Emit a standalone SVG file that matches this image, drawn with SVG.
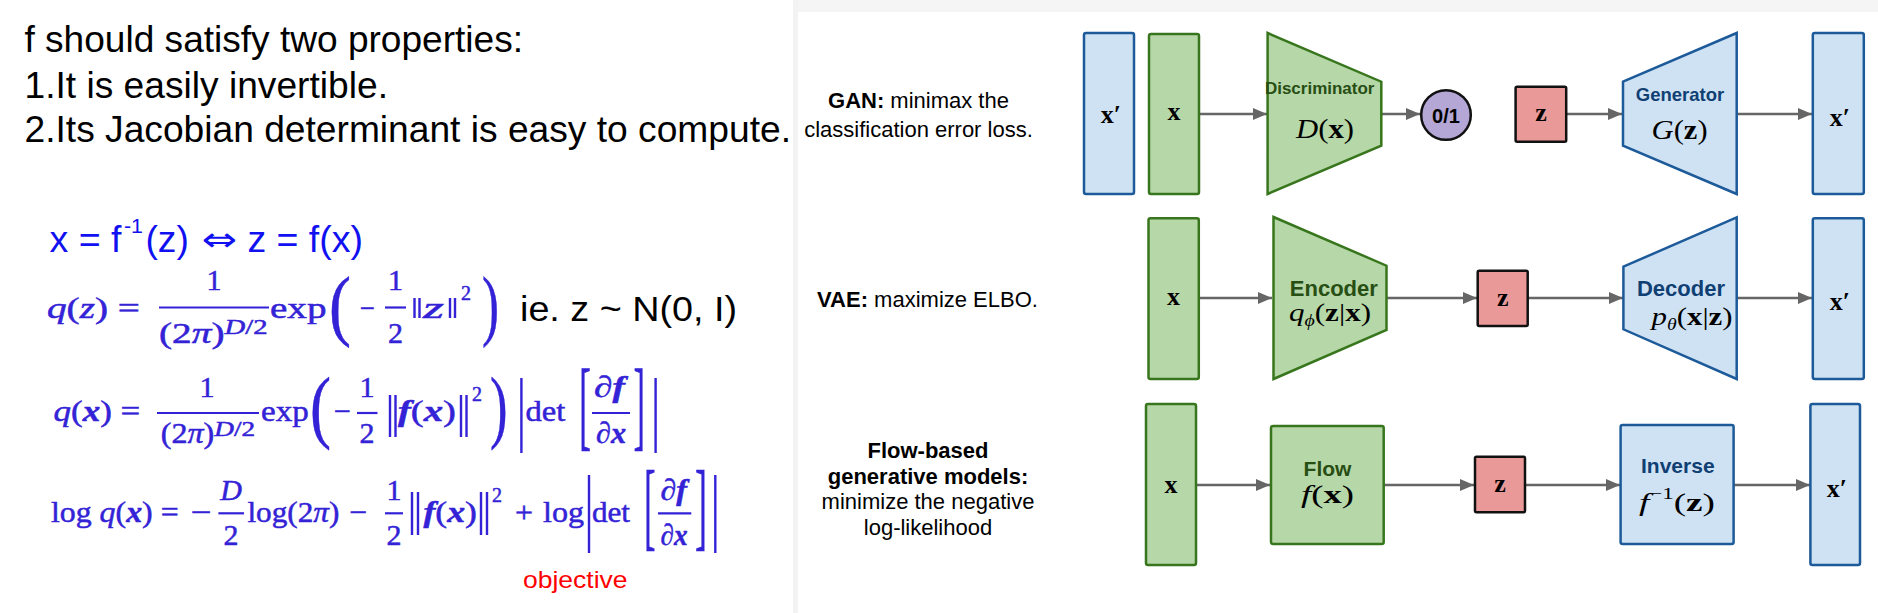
<svg xmlns="http://www.w3.org/2000/svg" width="1878" height="613" viewBox="0 0 1878 613">
<style>
.t{font-family:"Liberation Sans",Arial,sans-serif;fill:#000}
.bl{font-family:"Liberation Sans","DejaVu Sans",sans-serif;fill:#1010f0}
.m{font-family:"Liberation Serif","Times New Roman",serif;fill:#3322d6;stroke:#3322d6;stroke-width:0.5}
.i{font-style:italic}
.bi{font-style:italic;font-weight:bold}
.bar{stroke:#3322d6;stroke-width:2.2}
.vb{stroke:#3322d6;stroke-width:2.4}
.lab{font-family:"Liberation Sans",Arial,sans-serif;font-size:22px;fill:#000;text-anchor:middle}
.g{fill:#b6d7a8;stroke:#38761d;stroke-width:2.5}
.b{fill:#cfe2f3;stroke:#1c5a99;stroke-width:2.5}
.r{fill:#ea9999;stroke:#111;stroke-width:2.5}
.c{fill:#b4a7d6;stroke:#111;stroke-width:2.5}
.gt{font-family:"Liberation Sans",Arial,sans-serif;font-weight:bold;fill:#274e13;text-anchor:middle}
.bt{font-family:"Liberation Sans",Arial,sans-serif;font-weight:bold;fill:#0f3f73;text-anchor:middle}
.v{font-family:"Liberation Serif","DejaVu Serif",serif;fill:#000}
.vc{text-anchor:middle;font-weight:bold}
.cn{stroke:#666;stroke-width:2.5;fill:none}
</style>
<defs>
<marker id="ah" markerWidth="14" markerHeight="12" refX="14" refY="6" orient="auto" markerUnits="userSpaceOnUse"><path d="M0,0 L14,6 L0,12 z" fill="#666"/></marker>
</defs>
<rect width="1878" height="613" fill="#fff"/>
<rect x="793" y="0" width="1085" height="12" fill="#f5f5f5"/>
<rect x="793" y="0" width="5" height="613" fill="#f3f3f3"/>

<g id="properties">
<text class="t" x="24.5" y="52" font-size="37" textLength="498.5" lengthAdjust="spacingAndGlyphs">f should satisfy two properties:</text>
<text class="t" x="24.5" y="97.5" font-size="37" textLength="363.5" lengthAdjust="spacingAndGlyphs">1.It is easily invertible.</text>
<text class="t" x="24.5" y="142" font-size="37" textLength="766.5" lengthAdjust="spacingAndGlyphs">2.Its Jacobian determinant is easy to compute.</text>
</g>

<g id="formula-inverse" font-size="37">
<text class="bl" x="49.5" y="252" textLength="72" lengthAdjust="spacingAndGlyphs">x = f</text>
<text class="bl" x="124" y="233" font-size="21" textLength="19" lengthAdjust="spacingAndGlyphs">-1</text>
<text class="bl" x="145.4" y="252" textLength="43.4" lengthAdjust="spacingAndGlyphs">(z)</text>
<text x="201.5" y="251" style="font-family:'DejaVu Sans',sans-serif;font-size:34px;fill:#1010f0" textLength="35.5" lengthAdjust="spacingAndGlyphs">⇔</text>
<text class="bl" x="247.4" y="252" textLength="115.6" lengthAdjust="spacingAndGlyphs">z = f(x)</text>
</g>

<g id="formula-qz" font-size="30">
<text class="m" x="47" y="318" textLength="93" lengthAdjust="spacingAndGlyphs"><tspan class="i">q</tspan>(<tspan class="i">z</tspan>) =</text>
<text class="m" x="214" y="290" text-anchor="middle">1</text>
<line class="bar" x1="159" y1="307.5" x2="269" y2="307.5"/>
<text class="m" x="159" y="343" textLength="65.5" lengthAdjust="spacingAndGlyphs">(2<tspan class="i">π</tspan>)</text>
<text class="m" x="224.5" y="334" font-size="21" textLength="43" lengthAdjust="spacingAndGlyphs"><tspan class="i">D</tspan>/2</text>
<text class="m" x="270" y="318" textLength="56.5" lengthAdjust="spacingAndGlyphs">exp</text>
<text class="m" transform="translate(329,330.5) scale(0.836,1)" font-size="79">(</text>
<text class="m" x="360" y="318" textLength="15" lengthAdjust="spacingAndGlyphs">−</text>
<text class="m" x="395.5" y="290" text-anchor="middle">1</text>
<line class="bar" x1="385" y1="307.5" x2="406" y2="307.5"/>
<text class="m" x="395.5" y="343" text-anchor="middle">2</text>
<line class="vb" x1="414.5" y1="298" x2="414.5" y2="318"/>
<line class="vb" x1="419.5" y1="298" x2="419.5" y2="318"/>
<text class="m i" x="423" y="318" textLength="21" lengthAdjust="spacingAndGlyphs">z</text>
<line class="vb" x1="450" y1="298" x2="450" y2="318"/>
<line class="vb" x1="455" y1="298" x2="455" y2="318"/>
<text class="m" x="461" y="300" font-size="20">2</text>
<text class="m" transform="translate(482,330.5) scale(0.646,1)" font-size="79">)</text>
<text class="t" x="520" y="321" font-size="35" textLength="217" lengthAdjust="spacingAndGlyphs">ie. z ~ N(0, I)</text>
</g>

<g id="formula-qx" font-size="30">
<text class="m" x="53.6" y="421" textLength="86.7" lengthAdjust="spacingAndGlyphs"><tspan class="i">q</tspan>(<tspan class="bi">x</tspan>) =</text>
<text class="m" x="207" y="397" text-anchor="middle">1</text>
<line class="bar" x1="157" y1="413" x2="259" y2="413"/>
<text class="m" x="160.7" y="443" textLength="53.6" lengthAdjust="spacingAndGlyphs">(2<tspan class="i">π</tspan>)</text>
<text class="m" x="214.3" y="436" font-size="21" textLength="40.8" lengthAdjust="spacingAndGlyphs"><tspan class="i">D</tspan>/2</text>
<text class="m" x="261" y="421" textLength="47.7" lengthAdjust="spacingAndGlyphs">exp</text>
<text class="m" transform="translate(310,432.7) scale(0.78,1)" font-size="81">(</text>
<text class="m" x="334" y="421" textLength="17" lengthAdjust="spacingAndGlyphs">−</text>
<text class="m" x="367" y="397" text-anchor="middle">1</text>
<line class="bar" x1="357" y1="413" x2="377.5" y2="413"/>
<text class="m" x="367" y="443" text-anchor="middle">2</text>
<line class="vb" x1="390" y1="395" x2="390" y2="437"/>
<line class="vb" x1="395.5" y1="395" x2="395.5" y2="437"/>
<text class="m" x="398" y="421" textLength="58" lengthAdjust="spacingAndGlyphs"><tspan class="bi">f</tspan>(<tspan class="bi">x</tspan>)</text>
<line class="vb" x1="461" y1="395" x2="461" y2="437"/>
<line class="vb" x1="466.5" y1="395" x2="466.5" y2="437"/>
<text class="m" x="472" y="401" font-size="20">2</text>
<text class="m" transform="translate(490,432.7) scale(0.65,1)" font-size="81">)</text>
<line class="vb" x1="521.4" y1="378" x2="521.4" y2="453"/>
<text class="m" x="525.5" y="421" textLength="39.8" lengthAdjust="spacingAndGlyphs">det</text>
<text class="m" transform="translate(579,437.6) scale(0.364,1)" font-size="99">[</text>
<text class="m bi" x="594" y="397" textLength="31" lengthAdjust="spacingAndGlyphs">∂f</text>
<line class="bar" x1="592" y1="413" x2="630" y2="413"/>
<text class="m bi" x="596" y="443" textLength="30" lengthAdjust="spacingAndGlyphs">∂x</text>
<text class="m" transform="translate(633.5,437.6) scale(0.35,1)" font-size="99">]</text>
<line class="vb" x1="655.6" y1="378" x2="655.6" y2="453"/>
</g>

<g id="formula-logqx" font-size="30">
<text class="m" x="51" y="522" textLength="127.6" lengthAdjust="spacingAndGlyphs">log <tspan class="i">q</tspan>(<tspan class="bi">x</tspan>) =</text>
<text class="m" x="191" y="522" textLength="20.7" lengthAdjust="spacingAndGlyphs">−</text>
<text class="m i" x="231" y="500" text-anchor="middle">D</text>
<line class="bar" x1="218.4" y1="513.3" x2="244" y2="513.3"/>
<text class="m" x="231" y="545" text-anchor="middle">2</text>
<text class="m" x="247.4" y="522" textLength="92" lengthAdjust="spacingAndGlyphs">log(2<tspan class="i">π</tspan>)</text>
<text class="m" x="349.5" y="522" textLength="17.8" lengthAdjust="spacingAndGlyphs">−</text>
<text class="m" x="394" y="500" text-anchor="middle">1</text>
<line class="bar" x1="385" y1="513.3" x2="403" y2="513.3"/>
<text class="m" x="394" y="545" text-anchor="middle">2</text>
<line class="vb" x1="412" y1="492" x2="412" y2="535"/>
<line class="vb" x1="418" y1="492" x2="418" y2="535"/>
<text class="m" x="423.5" y="522" textLength="53.5" lengthAdjust="spacingAndGlyphs"><tspan class="bi">f</tspan>(<tspan class="bi">x</tspan>)</text>
<line class="vb" x1="481" y1="492" x2="481" y2="535"/>
<line class="vb" x1="487" y1="492" x2="487" y2="535"/>
<text class="m" x="492" y="502" font-size="20">2</text>
<text class="m" x="515" y="522" textLength="18" lengthAdjust="spacingAndGlyphs">+</text>
<text class="m" x="543" y="522" textLength="41" lengthAdjust="spacingAndGlyphs">log</text>
<line class="vb" x1="589" y1="475" x2="589" y2="553"/>
<text class="m" x="592" y="522" textLength="38" lengthAdjust="spacingAndGlyphs">det</text>
<text class="m" transform="translate(644,537.7) scale(0.356,1)" font-size="98">[</text>
<text class="m bi" x="660.5" y="500" textLength="26.5" lengthAdjust="spacingAndGlyphs">∂f</text>
<line class="bar" x1="658" y1="513.3" x2="691.3" y2="513.3"/>
<text class="m bi" x="660.5" y="545" textLength="27" lengthAdjust="spacingAndGlyphs">∂x</text>
<text class="m" transform="translate(695,537.7) scale(0.368,1)" font-size="98">]</text>
<line class="vb" x1="715.3" y1="475" x2="715.3" y2="553"/>
<text x="523" y="588" font-family="Liberation Sans, Arial, sans-serif" font-size="24" fill="#ff0000" textLength="104.6" lengthAdjust="spacingAndGlyphs">objective</text>
</g>

<g id="row-labels">
<text class="lab" x="918.5" y="108.3"><tspan font-weight="bold">GAN:</tspan> minimax the</text>
<text class="lab" x="918.5" y="136.7">classification error loss.</text>
<text class="lab" x="927.5" y="307.3"><tspan font-weight="bold">VAE:</tspan> maximize ELBO.</text>
<text class="lab" x="928" y="458.3" font-weight="bold">Flow-based</text>
<text class="lab" x="928" y="484.3" font-weight="bold">generative models:</text>
<text class="lab" x="928" y="509.3">minimize the negative</text>
<text class="lab" x="928" y="535">log-likelihood</text>
</g>

<g id="connectors">
<line class="cn" x1="1199" y1="114" x2="1267" y2="114" marker-end="url(#ah)"/>
<line class="cn" x1="1381" y1="114" x2="1420" y2="114" marker-end="url(#ah)"/>
<line class="cn" x1="1566" y1="114" x2="1622" y2="114" marker-end="url(#ah)"/>
<line class="cn" x1="1737" y1="114" x2="1812" y2="114" marker-end="url(#ah)"/>
<line class="cn" x1="1199" y1="298" x2="1272" y2="298" marker-end="url(#ah)"/>
<line class="cn" x1="1386.5" y1="298" x2="1477" y2="298" marker-end="url(#ah)"/>
<line class="cn" x1="1528" y1="298" x2="1623" y2="298" marker-end="url(#ah)"/>
<line class="cn" x1="1737" y1="298" x2="1812" y2="298" marker-end="url(#ah)"/>
<line class="cn" x1="1196" y1="485" x2="1270" y2="485" marker-end="url(#ah)"/>
<line class="cn" x1="1384" y1="485" x2="1474" y2="485" marker-end="url(#ah)"/>
<line class="cn" x1="1525" y1="485" x2="1620" y2="485" marker-end="url(#ah)"/>
<line class="cn" x1="1734" y1="485" x2="1810" y2="485" marker-end="url(#ah)"/>
</g>

<g id="gan-xprime-in">
<rect class="b" x="1084" y="33" width="50" height="161" rx="2"/>
<text class="v vc" x="1111" y="122.7" font-size="26">x′</text>
</g>
<g id="gan-x">
<rect class="g" x="1149" y="34" width="50" height="160" rx="2"/>
<text class="v vc" x="1174" y="120" font-size="26">x</text>
</g>
<g id="gan-discriminator">
<polygon class="g" points="1267.6,33 1381.3,81.7 1381.3,145.7 1267.6,194"/>
<text class="gt" x="1319.7" y="94.3" font-size="17">Discriminator</text>
<text class="v" x="1296" y="138" font-size="28" textLength="58" lengthAdjust="spacingAndGlyphs"><tspan class="i">D</tspan>(<tspan font-weight="bold">x</tspan>)</text>
</g>
<g id="gan-output">
<circle class="c" cx="1446" cy="115" r="24.8"/>
<text class="gt" x="1446" y="123" font-size="20" style="fill:#000">0/1</text>
</g>
<g id="gan-z">
<rect class="r" x="1515.6" y="86.7" width="50.6" height="55" rx="1.5"/>
<text class="v vc" x="1541" y="120.7" font-size="26">z</text>
</g>
<g id="gan-generator">
<polygon class="b" points="1623,81.7 1736.7,33 1736.7,194 1623,145.7"/>
<text class="bt" x="1680" y="101" font-size="18.5">Generator</text>
<text class="v" x="1651.6" y="139" font-size="28" textLength="56" lengthAdjust="spacingAndGlyphs"><tspan class="i">G</tspan>(<tspan font-weight="bold">z</tspan>)</text>
</g>
<g id="gan-xprime-out">
<rect class="b" x="1812.8" y="33" width="51" height="161" rx="2"/>
<text class="v vc" x="1840" y="126" font-size="26">x′</text>
</g>

<g id="vae-x">
<rect class="g" x="1148.5" y="218.3" width="50.3" height="160.7" rx="2"/>
<text class="v vc" x="1173.6" y="305" font-size="26">x</text>
</g>
<g id="vae-encoder">
<polygon class="g" points="1273.5,217 1386.5,265.7 1386.5,330 1273.5,379"/>
<text class="gt" x="1333.8" y="295.5" font-size="22">Encoder</text>
<text class="v" x="1289" y="321" font-size="25" textLength="82" lengthAdjust="spacingAndGlyphs"><tspan class="i">q</tspan><tspan class="i" font-size="16" dy="5">ϕ</tspan><tspan dy="-5">(</tspan><tspan font-weight="bold">z</tspan>|<tspan font-weight="bold">x</tspan>)</text>
</g>
<g id="vae-z">
<rect class="r" x="1477.7" y="270.7" width="50" height="55.3" rx="1.5"/>
<text class="v vc" x="1502.7" y="306" font-size="26">z</text>
</g>
<g id="vae-decoder">
<polygon class="b" points="1623.4,266.7 1736.7,217.3 1736.7,379 1623.4,329.3"/>
<text class="bt" x="1681" y="295.5" font-size="22">Decoder</text>
<text class="v" x="1651.6" y="325" font-size="25" textLength="81" lengthAdjust="spacingAndGlyphs"><tspan class="i">p</tspan><tspan class="i" font-size="16" dy="5">θ</tspan><tspan dy="-5">(</tspan><tspan font-weight="bold">x</tspan>|<tspan font-weight="bold">z</tspan>)</text>
</g>
<g id="vae-xprime">
<rect class="b" x="1812.8" y="218.3" width="51" height="160.7" rx="2"/>
<text class="v vc" x="1840" y="310" font-size="26">x′</text>
</g>

<g id="flow-x">
<rect class="g" x="1146" y="404" width="50" height="161" rx="2"/>
<text class="v vc" x="1171" y="493.3" font-size="26">x</text>
</g>
<g id="flow-f">
<rect class="g" x="1271" y="426" width="112.7" height="118" rx="2"/>
<text class="gt" x="1327.5" y="476" font-size="21">Flow</text>
<text class="v" x="1301" y="503" font-size="26" textLength="53" lengthAdjust="spacingAndGlyphs"><tspan class="i">f</tspan>(<tspan font-weight="bold">x</tspan>)</text>
</g>
<g id="flow-z">
<rect class="r" x="1475" y="456.7" width="50" height="55.6" rx="1.5"/>
<text class="v vc" x="1500" y="491.7" font-size="26">z</text>
</g>
<g id="flow-inverse">
<rect class="b" x="1620.6" y="425" width="113" height="119" rx="2"/>
<text class="bt" x="1677.8" y="472.7" font-size="21">Inverse</text>
<text class="v" x="1639" y="511" font-size="26" textLength="76" lengthAdjust="spacingAndGlyphs"><tspan class="i">f</tspan><tspan font-size="16" dy="-12">−1</tspan><tspan dy="12">(</tspan><tspan font-weight="bold">z</tspan>)</text>
</g>
<g id="flow-xprime">
<rect class="b" x="1810.4" y="404" width="49.6" height="161" rx="2"/>
<text class="v vc" x="1837" y="496.7" font-size="26">x′</text>
</g>
</svg>
